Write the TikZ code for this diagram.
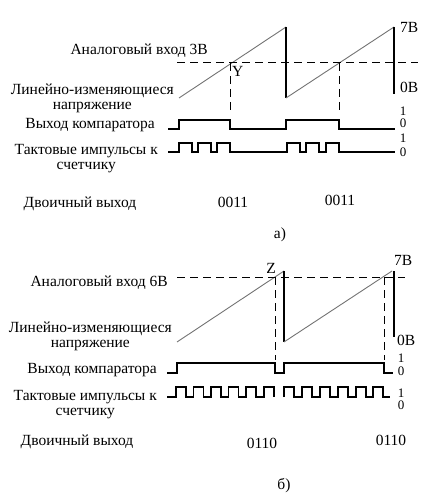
\documentclass[tikz,border=0pt]{standalone}
\usepackage{fontspec}
\setmainfont{Liberation Serif}

\begin{document}
\begin{tikzpicture}[
    x=1pt, y=-1pt,
    lbl/.style={inner sep=0pt, font=\fontsize{15.5}{17}\selectfont},
    twoline/.style={inner sep=0pt, align=center, font=\fontsize{15.5}{15}\selectfont},
    lvl/.style={inner sep=0pt, font=\fontsize{13}{13}\selectfont},
    ramp/.style={draw=black!55, line width=0.9pt},
    wave/.style={draw, line width=1.2pt},
    guide/.style={draw, line width=1pt, dash pattern=on 8pt off 5pt}
]
\useasboundingbox (0,0) rectangle (422,494);

% a) labels
\node[lbl, anchor=base east] (vin_a) at (208,55) {Аналоговый вход 3В};
\node[twoline, anchor=north east] (ramp_a) at (174,83.5) {Линейно-изменяющиеся\\напряжение};
\node[lbl, anchor=base east] (comp_a) at (155,129) {Выход компаратора};
\node[twoline, anchor=north east] (clk_a) at (158,144.5) {Тактовые импульсы к\\счетчику};
\node[lbl, anchor=base] (bin_a) at (80,207) {Двоичный выход};
\node[lbl, anchor=base] (code_a1) at (233,207) {0011};
\node[lbl, anchor=base] (code_a2) at (340,205) {0011};
\node[lbl, anchor=base] (cap_a) at (280,238) {а)};
\node[lbl, anchor=base west] (y_a) at (232,77) {Y};
\node[lbl, anchor=base west] (max_a) at (400,33) {7В};
\node[lbl, anchor=base west] (min_a) at (400,93) {0В};
\node[lvl, anchor=base] (c1_a) at (403,116) {1};
\node[lvl, anchor=base] (c0_a) at (403,128) {0};
\node[lvl, anchor=base] (k1_a) at (403,143) {1};
\node[lvl, anchor=base] (k0_a) at (403,157) {0};

% a) ramp and threshold
\draw[ramp] (179,98) -- (286,27);
\draw[wave] (286,27) -- (286,98);
\draw[ramp] (286,98) -- (394,27);
\draw[wave] (394,27) -- (394,94);
\draw[guide] (177,63) -- (418,63);
\draw[guide] (230,63) -- (230,113);
\draw[guide] (339,63) -- (339,113);

% a) comparator and clock
\draw[wave] (168,129) -- (179,129) -- (179,120) -- (230,120) -- (230,129)
    -- (286,129) -- (286,120) -- (339,120) -- (339,129) -- (395,129);
\draw[wave] (168,152) foreach \t in {179,198,217} {
    -- (\t,152) -- (\t,143) -- (\t+13,143) -- (\t+13,152)} -- (287,152)
    foreach \t in {287,306,326} {
    -- (\t,152) -- (\t,143) -- (\t+13,143) -- (\t+13,152)} -- (395,152);

% b) labels
\node[lbl, anchor=base east] (vin_b) at (168,286) {Аналоговый вход 6В};
\node[twoline, anchor=north east] (ramp_b) at (172,321.5) {Линейно-изменяющиеся\\напряжение};
\node[lbl, anchor=base east] (comp_b) at (157,373) {Выход компаратора};
\node[twoline, anchor=north east] (clk_b) at (157,390.5) {Тактовые импульсы к\\счетчику};
\node[lbl, anchor=base] (bin_b) at (77,445) {Двоичный выход};
\node[lbl, anchor=base] (code_b1) at (262,448) {0110};
\node[lbl, anchor=base] (code_b2) at (391,445) {0110};
\node[lbl, anchor=base] (cap_b) at (284,489) {б)};
\node[lbl, anchor=base] (z_b) at (271,273) {Z};
\node[lbl, anchor=base west] (max_b) at (394,265) {7В};
\node[lbl, anchor=base west] (min_b) at (397,345) {0В};
\node[lvl, anchor=base] (c1_b) at (401,362) {1};
\node[lvl, anchor=base] (c0_b) at (401,375) {0};
\node[lvl, anchor=base] (k1_b) at (401,397) {1};
\node[lvl, anchor=base] (k0_b) at (401,409) {0};

% b) ramp and threshold
\draw[ramp] (177,342) -- (284,271);
\draw[wave] (284,271) -- (284,342);
\draw[ramp] (284,342) -- (392,271);
\draw[wave] (394,271) -- (394,337);
\draw[guide] (177,277) -- (405,277);
\draw[guide] (275,277) -- (275,360);
\draw[guide] (384,277) -- (384,360);

% b) comparator and clock
\draw[wave] (167,373) -- (177,373) -- (177,363) -- (275,363) -- (275,373)
    -- (284,373) -- (284,363) -- (384,363) -- (384,373) -- (393,373);
\draw[wave] (167,397) foreach \t in {176,193.5,211,228.5,246,264} {
    -- (\t,397) -- (\t,387) -- (\t+10,387) -- (\t+10,397)};
\draw[wave] (284,397) foreach \t in {284,302,320,338,356,373} {
    -- (\t,397) -- (\t,387) -- (\t+10,387) -- (\t+10,397)} -- (390,397);

\end{tikzpicture}
\end{document}
